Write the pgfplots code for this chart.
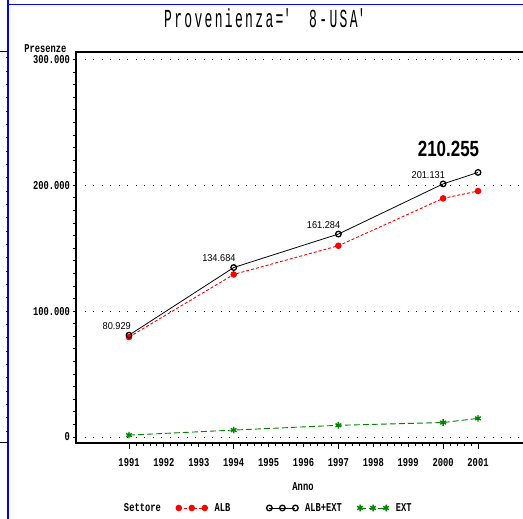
\documentclass[border=0pt]{standalone}
\usepackage{fontspec}
\usepackage{pgfplots}
\pgfplotsset{compat=1.18}
\setmainfont{Liberation Sans}
\newfontfamily\sasfont[FakeStretch=0.73]{Liberation Mono}
\newfontfamily\titlefont[FakeStretch=0.5,LetterSpace=9]{Liberation Mono}
\newfontfamily\lblfont[FakeStretch=0.92]{Liberation Sans}
\newfontfamily\biglblfont[FakeStretch=0.77]{Liberation Sans}
\definecolor{sasgreen}{RGB}{0,130,0}
\newcommand{\sasf}{\fontsize{12bp}{14bp}\selectfont\sasfont\bfseries}
\begin{document}
\begin{tikzpicture}
\path[use as bounding box] (0,0) rectangle (523bp,519bp);
% page decorations
\draw[blue, line width=1.2bp] (8bp,0) -- (8bp,519bp);
\draw[blue, line width=1.2bp] (8bp,514.7bp) -- (523bp,514.7bp);
\draw[black, line width=1bp] (0,467bp) -- (8bp,467bp);
\draw[black, line width=1bp] (0,76bp) -- (8bp,76bp);
\foreach \k [evaluate=\k as \yy using 519-57.7-13.33*\k] in {0,...,28}
  \draw[black, line width=0.8bp] (5.5bp,\yy bp) -- (8bp,\yy bp);
\begin{axis}[
  at={(76bp,76bp)}, anchor=south west,
  scale only axis, width=454bp, height=391bp,
  xmin=1989.481, xmax=2002.49,
  ymin=-4768, ymax=305960,
  axis line style={line width=1.2bp},
  tick style={black, line width=0.9bp},
  tick align=outside,
  xtick pos=bottom, ytick pos=left,
  xtick={1991,1992,1993,1994,1995,1996,1997,1998,1999,2000,2001},
  xticklabels={1991,1992,1993,1994,1995,1996,1997,1998,1999,2000,2001},
  minor x tick num=4,
  ytick={0,100000,200000,300000},
  yticklabels={0,100.000,200.000,300.000},
  scaled y ticks=false,
  minor y tick num=9,
  major tick length=3.5bp, minor tick length=3bp,
  extra x ticks={1991,1994,1997,2000,2001},
  extra x tick labels={},
  extra x tick style={major tick length=6bp, grid=none},
  ymajorgrids,
  major grid style={black, line width=1bp, dash pattern=on 1bp off 7.5bp},
  ticklabel style={font=\sasf},
  yticklabel style={inner sep=0pt, xshift=-2.5bp},
  xticklabel style={inner sep=0pt, yshift=-11.5bp},
  title={Provenienza=\textquotesingle\ 8-USA\textquotesingle},
  title style={font=\fontsize{26bp}{30bp}\selectfont\titlefont, at={(axis description cs:0.4244,1.0703)}, anchor=center},
  xlabel={Anno},
  every axis x label/.style={at={(axis description cs:0.5,-0.1125)}, anchor=center, font=\sasf},
  ylabel={Presenze},
  every axis y label/.style={at={(axis description cs:-0.0132,1.0077)}, anchor=east, font=\sasf},
  legend columns=-1,
  legend style={at={(axis description cs:0.0903,-0.1662)}, anchor=west, draw=none, fill=none,
    inner sep=0pt, outer sep=0pt, /tikz/column sep=7bp, nodes={inner sep=0pt}, font=\sasf},
  legend image code/.code={\draw[#1] plot coordinates {(0bp,0bp) (13bp,0bp) (26bp,0bp)};},
]
\addlegendimage{empty legend}
\addlegendentry{\makebox[45bp][l]{Settore}}

\addplot[red, line width=0.9bp, dash pattern=on 3bp off 2bp, mark=*, mark size=2.8bp,
  mark options={solid, fill=red}] table {
x y
1991 79429
1994 129184
1997 151984
2000 189631
2001 195455
};
\addlegendentry{\makebox[45bp][l]{ALB}}

\addplot[black, line width=0.8bp, mark=o, mark size=2.8bp, mark options={solid, line width=1.3bp}] table {
x y
1991 80929
1994 134684
1997 161284
2000 201131
2001 210255
};
\addlegendentry{\makebox[45bp][l]{ALB+EXT}}

\addplot[sasgreen, line width=0.9bp, dash pattern=on 6bp off 3bp, mark=asterisk, mark size=3.3bp,
  mark options={solid, line width=1.4bp}] table {
x y
1991 1500
1994 5500
1997 9300
2000 11500
2001 14800
};
\addlegendentry{\makebox[45bp][l]{EXT}}

\addplot[draw=none, mark=none, forget plot, nodes near coords, point meta=explicit symbolic,
  nodes near coords style={font=\fontsize{10bp}{12bp}\selectfont\lblfont, anchor=south east, xshift=2bp, yshift=5.6bp, inner sep=0pt}]
  table[meta=label] {
x y label
1991 80929 80.929
1994 134684 134.684
1997 161284 161.284
2000 201131 201.131
};
\addplot[draw=none, mark=none, forget plot, nodes near coords, point meta=explicit symbolic,
  nodes near coords style={font=\fontsize{22bp}{26bp}\selectfont\biglblfont\bfseries, anchor=south east, xshift=1.3bp, yshift=16bp, inner sep=0pt}]
  table[meta=label] {
x y label
2001 210255 210.255
};
\end{axis}
\end{tikzpicture}
\end{document}
